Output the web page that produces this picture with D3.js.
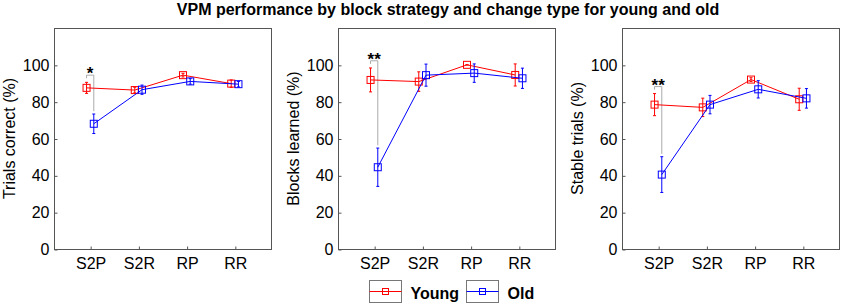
<!DOCTYPE html>
<html>
<head>
<meta charset="utf-8">
<script src="https://cdn.jsdelivr.net/npm/d3@7"></script>
<style>
  body { margin: 0; background: #fff; }
  svg { font-family: "Liberation Sans", Arial, Helvetica, sans-serif; }
</style>
</head>
<body>
<div class="chart"></div>
<script>
const W = 843, H = 308;

// DATA
const categories = ["S2P", "S2R", "RP", "RR"];
const yTicks = [0, 20, 40, 60, 80, 100];
const yLabels = ["Trials correct (%)", "Blocks learned (%)", "Stable trials (%)"];

const trialsYoung = [87.5, 86.3, 94.4, 89.8];
const trialsYoungErr = [3, 1.5, 1, 2];
const trialsOld = [68, 86.5, 91, 89.5];
const trialsOldErr = [5.3, 2.5, 1.5, 1.5];

const blocksYoung = [91.8, 90.9, 100, 94.5];
const blocksYoungErr = [6.5, 5.3, 0, 6];
const blocksOld = [44.4, 94.4, 95.5, 92.7];
const blocksOldErr = [10.4, 6, 5, 5.5];

const stableYoung = [78.4, 76.9, 92, 81.3];
const stableYoungErr = [6, 5, 1, 6];
const stableOld = [40.4, 78.4, 86.7, 81.8];
const stableOldErr = [9.7, 5, 4.7, 5.3];

const sigLabels = ["*", "**", "**"];
const sigTop = [94.4, 102.2, 88.2];

const groups = ["Young", "Old"];
const colorScale = d3.scaleOrdinal().domain(groups).range(["#ff0000", "#0000ff"]);

const panels = [
  {young: trialsYoung, youngErr: trialsYoungErr, old: trialsOld, oldErr: trialsOldErr},
  {young: blocksYoung, youngErr: blocksYoungErr, old: blocksOld, oldErr: blocksOldErr},
  {young: stableYoung, youngErr: stableYoungErr, old: stableOld, oldErr: stableOldErr}
];

const panelLefts = [54, 338, 622];
const panelWidth = 217;
const plotTop = 28, plotBottom = 249;
const offset = 0.075;   // horizontal dodge of the two groups
const markerSize = 7;

const svg = d3.select(".chart").append("svg")
    .attr("width", W)
    .attr("height", H);

svg.append("text")
    .attr("x", 448)
    .attr("y", 15)
    .attr("text-anchor", "middle")
    .style("font-size", "16px")
    .style("font-weight", "bold")
    .text("VPM performance by block strategy and change type for young and old");

panels.forEach((p, i) => {
    const left = panelLefts[i];
    const x = d3.scaleLinear().domain([0.25, 4.75]).range([left, left + panelWidth]);
    const y = d3.scaleLinear().domain([0, 120]).range([plotBottom, plotTop]);

    const g = svg.append("g");

    // box
    g.append("rect")
        .attr("x", left + 0.5).attr("y", plotTop + 0.5)
        .attr("width", panelWidth).attr("height", plotBottom - plotTop)
        .attr("fill", "none").attr("stroke", "#555").attr("stroke-width", 1);

    const yAxis = g.append("g")
        .attr("transform", `translate(${left + 0.5},0.5)`)
        .call(d3.axisLeft(y).tickValues(yTicks).tickSize(-3).tickPadding(5));
    const xAxis = g.append("g")
        .attr("transform", `translate(0.5,${plotBottom + 0.5})`)
        .call(d3.axisBottom(x).tickValues([1, 2, 3, 4]).tickSize(-3).tickPadding(8)
            .tickFormat((d, k) => categories[k]));
    [yAxis, xAxis].forEach(a => {
        a.select(".domain").remove();
        a.selectAll("line").attr("stroke", "#555");
        a.selectAll("text").attr("fill", "#000").style("font-size", "16px")
            .style("font-family", "'Liberation Sans', Arial, sans-serif");
    });

    g.append("text")
        .attr("transform", `translate(${left - 39},${(plotTop + plotBottom) / 2}) rotate(-90)`)
        .attr("text-anchor", "middle")
        .style("font-size", "16px")
        .text(yLabels[i]);

    const series = [
        {name: "Young", vals: p.young, errs: p.youngErr, dx: -offset},
        {name: "Old", vals: p.old, errs: p.oldErr, dx: offset}
    ];

    // significance bracket
    const xl = x(1 - offset), xr = x(1 + offset);
    const yt = y(sigTop[i]);
    const leftEnd = y(p.young[0] + p.youngErr[0] + 2.2);
    const rightEnd = y(p.old[0] + p.oldErr[0] + 1.5);
    g.append("path")
        .attr("d", `M${xl},${leftEnd}V${yt}H${xr}V${rightEnd}`)
        .attr("fill", "none").attr("stroke", "#aaa").attr("stroke-width", 1);
    g.append("text")
        .attr("x", (xl + xr) / 2)
        .attr("y", yt + 4)
        .attr("text-anchor", "middle")
        .style("font-size", "17px")
        .style("font-weight", "bold")
        .text(sigLabels[i]);

    series.forEach(s => {
        const col = colorScale(s.name);
        const pts = s.vals.map((v, k) => ({cx: x(k + 1 + s.dx), v: v, e: s.errs[k]}));

        g.append("path")
            .datum(pts)
            .attr("fill", "none").attr("stroke", col).attr("stroke-width", 1)
            .attr("d", d3.line().x(d => d.cx).y(d => y(d.v)));

        const eb = g.append("g").selectAll("g").data(pts).enter().append("g");
        eb.append("line")
            .attr("x1", d => d.cx).attr("x2", d => d.cx)
            .attr("y1", d => y(d.v - d.e)).attr("y2", d => y(d.v + d.e))
            .attr("stroke", col);
        eb.append("line")
            .attr("x1", d => d.cx - 1.5).attr("x2", d => d.cx + 1.5)
            .attr("y1", d => y(d.v - d.e)).attr("y2", d => y(d.v - d.e))
            .attr("stroke", col);
        eb.append("line")
            .attr("x1", d => d.cx - 1.5).attr("x2", d => d.cx + 1.5)
            .attr("y1", d => y(d.v + d.e)).attr("y2", d => y(d.v + d.e))
            .attr("stroke", col);
        eb.append("rect")
            .attr("x", d => d.cx - markerSize / 2).attr("y", d => y(d.v) - markerSize / 2)
            .attr("width", markerSize).attr("height", markerSize)
            .attr("fill", "none").attr("stroke", col);
    });
});

// legend
const legend = svg.append("g");
const legendX = [369.5, 466.5];
groups.forEach((gname, k) => {
    const lx = legendX[k];
    const col = colorScale(gname);
    legend.append("rect")
        .attr("x", lx).attr("y", 280.5).attr("width", 32).attr("height", 22)
        .attr("fill", "none").attr("stroke", "#777");
    legend.append("line")
        .attr("x1", lx).attr("x2", lx + 32).attr("y1", 291.5).attr("y2", 291.5)
        .attr("stroke", col);
    legend.append("rect")
        .attr("x", lx + 16 - 3).attr("y", 291.5 - 3).attr("width", 6).attr("height", 6)
        .attr("fill", "none").attr("stroke", col);
    legend.append("text")
        .attr("x", lx + 41).attr("y", 299)
        .style("font-size", "16px").style("font-weight", "bold")
        .text(gname);
});
</script>
</body>
</html>
